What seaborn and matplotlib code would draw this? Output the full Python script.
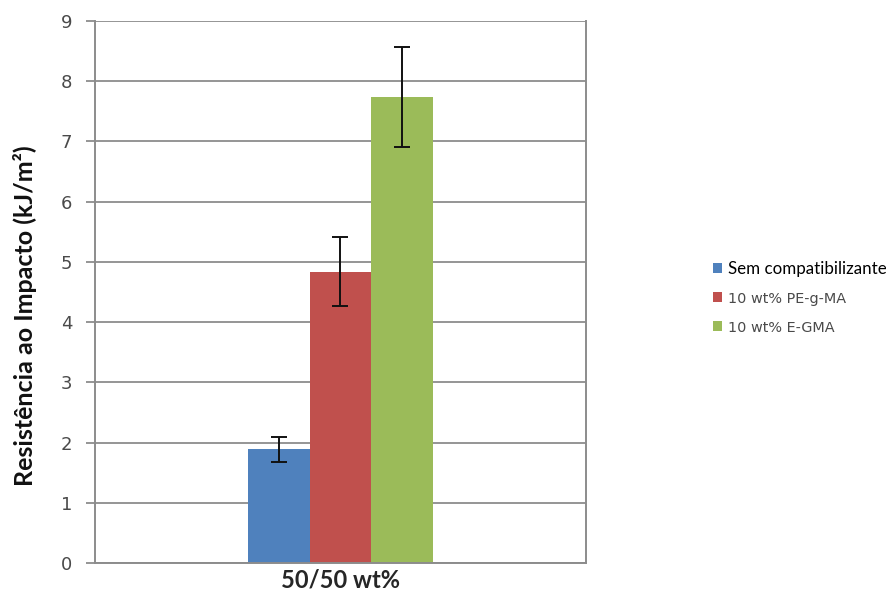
import matplotlib
matplotlib.use("Agg")
import matplotlib.pyplot as plt
import seaborn as sns
import pandas as pd
from matplotlib.patches import Patch

# Impact strength of the 50/50 wt% blend with and without compatibilizer
blend = ["50/50 wt%"]
series = ["Sem compatibilizante", "10 wt% PE-g-MA", "10 wt% E-GMA"]
values = [1.89, 4.84, 7.74]
errors = [0.21, 0.57, 0.83]
colors = ["#4F81BD", "#C0504D", "#9BBB59"]
yticks = [0, 1, 2, 3, 4, 5, 6, 7, 8, 9]

df = pd.DataFrame({"blend": blend * len(series), "serie": series, "valor": values})

sns.set_theme(style="white")
fig = plt.figure(figsize=(8.86, 5.94), dpi=100)
ax = fig.add_axes([95 / 886, 1 - 563 / 594, (586 - 95) / 886, (563 - 21) / 594])

sns.barplot(data=df, x="blend", y="valor", hue="serie", hue_order=series,
            palette=colors, width=0.375, errorbar=None, saturation=1,
            edgecolor="none", linewidth=0, legend=False, ax=ax)

# error bars at the centre of each drawn bar
bars = [p for p in ax.patches if p.get_height() > 0]
bars.sort(key=lambda p: p.get_x())
for p, v, e in zip(bars, values, errors):
    ax.errorbar(p.get_x() + p.get_width() / 2, v, yerr=e, fmt="none",
                ecolor="#111111", elinewidth=1.4, capsize=6, capthick=1.4, zorder=5)

ax.set_xlim(-0.5, 0.5)
ax.set_ylim(0, 9)
ax.set_yticks(yticks)
ax.set_yticklabels([str(t) for t in yticks], fontsize=13, color="#4a4a4a",
                   family="DejaVu Sans")
ax.yaxis.grid(True, color="#8c8c8c", linewidth=1.3)
ax.set_axisbelow(True)
ax.tick_params(axis="y", which="major", left=True, length=6.5, width=1.3,
               color="#8c8c8c", pad=10)
ax.tick_params(axis="x", length=0, pad=4)
for lbl in ax.get_xticklabels():
    lbl.set_fontfamily("Lato")
    lbl.set_fontweight("bold")
    lbl.set_fontsize(17)
    lbl.set_color("#262626")

for side in ["left", "bottom", "right"]:
    ax.spines[side].set_visible(True)
    ax.spines[side].set_color("#8c8c8c")
    ax.spines[side].set_linewidth(1.4)
ax.spines["top"].set_visible(False)

ax.set_xlabel("")
ax.set_ylabel("Resistência ao Impacto (kJ/m²)", fontsize=18, fontweight="bold",
              family="Lato", color="#111111")
ax.yaxis.label.set_va("center")
ax.yaxis.set_label_coords((25 - 95) / 491, (563 - 316) / 542)

handles = [Patch(facecolor=c, edgecolor="none") for c in colors]
leg = fig.legend(handles, series, loc="center left",
                 bbox_to_anchor=(713 / 886, 1 - 298 / 594), frameon=False,
                 borderpad=0, borderaxespad=0,
                 handlelength=0.55, handleheight=0.55, handletextpad=0.33,
                 labelspacing=0.9, fontsize=12)
texts = leg.get_texts()
texts[0].set_fontfamily("Lato")
texts[0].set_fontsize(12.2)
texts[0].set_color("#000000")
for t in texts[1:]:
    t.set_fontfamily("DejaVu Sans")
    t.set_fontsize(10.4)
    t.set_color("#4a4a4a")

fig.savefig("out.png", dpi=100, facecolor="white")
